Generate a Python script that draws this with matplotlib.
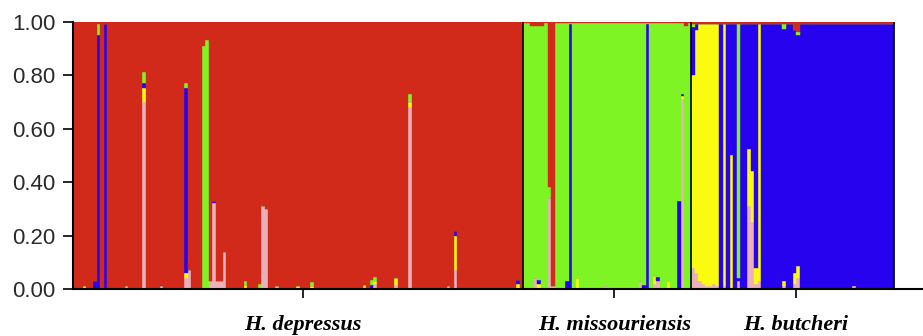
import numpy as np
import matplotlib.pyplot as plt

plt.rcParams['font.family'] = 'Liberation Sans'

# cluster order from bottom of each bar to top
clusters = ['pink', 'yellow', 'blue', 'green', 'red']
cluster_colors = ['#eab2b8', '#fbfb12', '#2602ef', '#7ff424', '#d12a1b']

pops = ['H. depressus', 'H. missouriensis', 'H. butcheri']
pop_sizes = [129, 48, 58]
pop_main = ['red', 'green', 'blue']
pop_top_red = [0.0, 0.005, 0.008]   # thin red line along the top of the bars
label_ticks = [66, 155, 207]

# admixed individuals: index within population -> membership of non-main clusters
dep_mixed = {
    3: {'yellow': 0.01}, 6: {'blue': 0.03}, 7: {'blue': 0.95, 'green': 0.04},
    9: {'blue': 0.99}, 15: {'pink': 0.01},
    20: {'pink': 0.70, 'yellow': 0.05, 'blue': 0.02, 'green': 0.04},
    25: {'pink': 0.01, 'blue': 0.005},
    32: {'pink': 0.04, 'yellow': 0.02, 'blue': 0.69, 'green': 0.02},
    33: {'pink': 0.07}, 37: {'green': 0.91}, 38: {'green': 0.93},
    39: {'pink': 0.03}, 40: {'pink': 0.32, 'blue': 0.01},
    41: {'pink': 0.03}, 42: {'pink': 0.03}, 43: {'pink': 0.14},
    49: {'yellow': 0.015, 'green': 0.015}, 53: {'green': 0.02},
    54: {'pink': 0.31}, 55: {'pink': 0.30}, 58: {'pink': 0.01},
    64: {'yellow': 0.01}, 68: {'yellow': 0.01, 'green': 0.015},
    83: {'yellow': 0.015}, 85: {'blue': 0.015, 'green': 0.02},
    86: {'pink': 0.02, 'yellow': 0.01, 'green': 0.015},
    92: {'pink': 0.015, 'yellow': 0.025},
    96: {'pink': 0.68, 'yellow': 0.02, 'green': 0.03},
    107: {'pink': 0.01}, 109: {'pink': 0.07, 'yellow': 0.13, 'blue': 0.015},
    127: {'yellow': 0.02, 'blue': 0.015},
}
mis_mixed = {
    2: {'red': 0.015}, 3: {'pink': 0.04, 'red': 0.015},
    4: {'yellow': 0.02, 'blue': 0.015, 'red': 0.015}, 5: {'red': 0.015},
    7: {'pink': 0.34, 'red': 0.62}, 8: {'pink': 0.01, 'red': 0.99},
    12: {'blue': 0.03}, 13: {'blue': 0.99}, 15: {'yellow': 0.04},
    23: {'pink': 0.01}, 33: {'pink': 0.03}, 34: {'blue': 0.015},
    35: {'blue': 0.99}, 37: {'pink': 0.02, 'yellow': 0.03},
    38: {'pink': 0.03, 'blue': 0.015}, 41: {'yellow': 0.03},
    44: {'blue': 0.33}, 45: {'pink': 0.71, 'yellow': 0.01, 'blue': 0.01},
    46: {'red': 0.015},
}
but_mixed = {
    0: {'pink': 0.08, 'yellow': 0.72, 'green': 0.01, 'red': 0.01},
    1: {'pink': 0.06, 'yellow': 0.91, 'red': 0.01},
    2: {'pink': 0.03, 'yellow': 0.96}, 3: {'pink': 0.02, 'yellow': 0.97},
    4: {'pink': 0.01, 'yellow': 0.98}, 5: {'pink': 0.01, 'yellow': 0.98},
    6: {'pink': 0.02, 'yellow': 0.97}, 7: {'pink': 0.01, 'yellow': 0.98},
    9: {'pink': 0.01, 'yellow': 0.98},
    11: {'yellow': 0.50}, 13: {'pink': 0.03, 'green': 0.95},
    16: {'pink': 0.31, 'yellow': 0.215}, 17: {'pink': 0.25, 'yellow': 0.19},
    18: {'pink': 0.02, 'yellow': 0.06}, 19: {'pink': 0.03, 'yellow': 0.96},
    26: {'pink': 0.01, 'yellow': 0.02, 'green': 0.02},
    29: {'pink': 0.02, 'yellow': 0.04, 'red': 0.03},
    30: {'pink': 0.04, 'yellow': 0.045, 'green': 0.01, 'red': 0.04},
    46: {'pink': 0.01},
}
pop_mixed = [dep_mixed, mis_mixed, but_mixed]

# build membership matrix
rows = []
for n, main, top, mixed in zip(pop_sizes, pop_main, pop_top_red, pop_mixed):
    for j in range(n):
        q = dict.fromkeys(clusters, 0.0)
        if main != 'red':
            q['red'] = top
        q.update(mixed.get(j, {}))
        q[main] = 0.0
        q[main] = max(0.0, 1.0 - sum(q.values()))
        rows.append([q[c] for c in clusters])
Q = np.array(rows)
N = len(Q)
x = np.arange(N)

fig = plt.figure(figsize=(9.23, 3.36), dpi=100)
ax = fig.add_axes([72.5 / 923, 47 / 336, 1 - 72.5 / 923, 267.5 / 336])

bottom = np.zeros(N)
for k, c in enumerate(cluster_colors):
    ax.bar(x, Q[:, k], bottom=bottom, width=1.0, align='edge', color=c,
           edgecolor=c, linewidth=0.3)
    bottom += Q[:, k]

# population borders
bounds = np.cumsum(pop_sizes)
ax.vlines(bounds, 0, 1, color='black', linewidth=1.2)

ax.set_xlim(0, N * (923 - 72.5) / (894 - 72.5))
ax.set_ylim(0, 1)
ax.set_yticks([0, 0.2, 0.4, 0.6, 0.8, 1.0])
ax.set_yticklabels(['0.00', '0.20', '0.40', '0.60', '0.80', '1.00'])
ax.tick_params(axis='y', length=7, width=1.2, pad=5, labelsize=16, labelcolor='#2a2a2a')
ax.set_xticks(label_ticks)
ax.set_xticklabels(pops, fontfamily='Liberation Serif', fontstyle='italic',
                   fontweight='bold', fontsize=16)
ax.tick_params(axis='x', length=6.5, width=1.2, pad=12)

for side in ['top', 'right']:
    ax.spines[side].set_visible(False)
for side in ['left', 'bottom']:
    ax.spines[side].set_linewidth(1.5)

plt.savefig('out.png', dpi=100)
